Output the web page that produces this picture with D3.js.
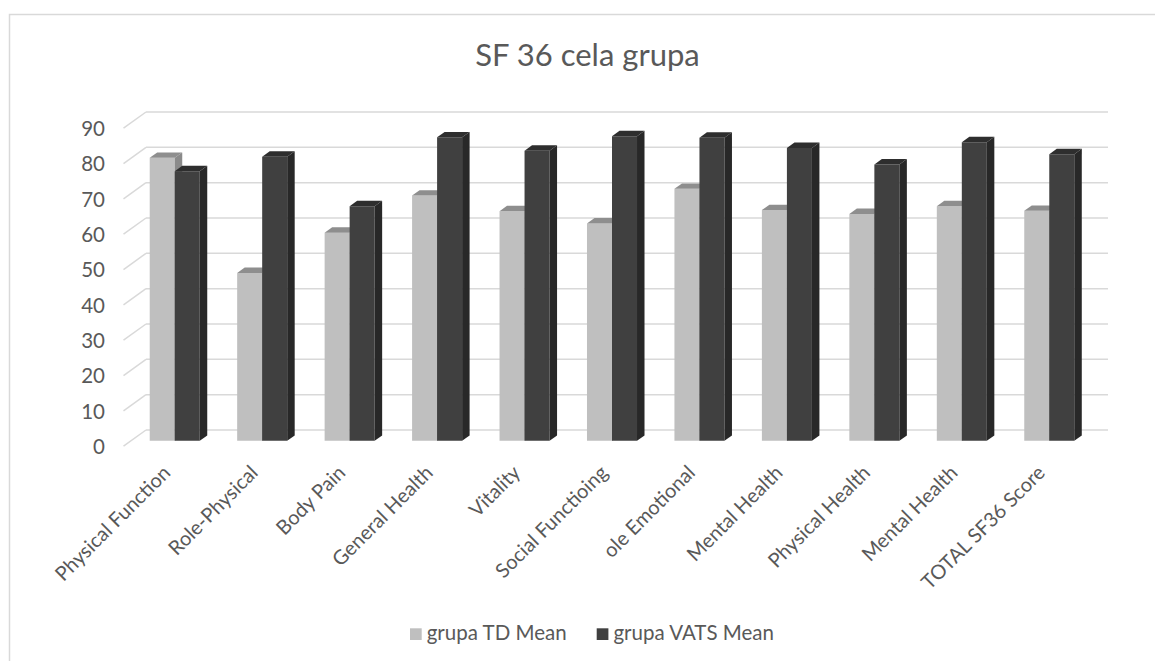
<!DOCTYPE html>
<html>
<head>
<meta charset="utf-8">
<script src="https://cdn.jsdelivr.net/npm/d3@7"></script>
<style>
  html, body { margin: 0; padding: 0; background: #ffffff; }
  svg { display: block; }
  text { font-family: Lato, "Open Sans", sans-serif; fill: #595959; }
</style>
</head>
<body>
<svg id="chart" width="1155" height="661"></svg>
<script>
// SF-36 domain means for the two surgical groups
const categories = [
  "Physical Function", "Role-Physical", "Body Pain", "General Health",
  "Vitality", "Social Functioing", "ole Emotional", "Mental Health",
  "Physical Health", "Mental Health", "TOTAL SF36 Score"
];
const seriesNames = ["grupa TD Mean", "grupa VATS Mean"];
const tdMean   = [80.1, 47.5, 58.9, 69.4, 65.0, 61.5, 71.3, 65.3, 64.2, 66.4, 65.1];
const vatsMean = [76.3, 80.4, 66.4, 85.9, 82.1, 86.2, 85.8, 82.9, 78.2, 84.5, 81.1];
const yTicks   = [0, 10, 20, 30, 40, 50, 60, 70, 80, 90];
const title    = "SF 36 cela grupa";

const seriesValues = [tdMean, vatsMean];

const svg = d3.select("#chart");

// chart frame (open to the right and bottom)
svg.append("path")
  .attr("d", "M1155,14.5 H9.5 V661")
  .attr("fill", "none")
  .attr("stroke", "#d9d9d9")
  .attr("stroke-width", 1.5);

// title
svg.append("text")
  .attr("x", 587.5)
  .attr("y", 66)
  .attr("text-anchor", "middle")
  .style("font-size", "31px")
  .text(title);

// back wall geometry; depth runs toward the viewer down-left
const wallLeft = 146, wallRight = 1108;
const slope = 0.72;              // screen dy per unit of depth
const floorDepth = 22.5;         // side wall / floor depth
const barFront = 15, barBack = 7.5;

const x = d3.scaleBand()
  .domain(d3.range(categories.length))
  .range([wallLeft, wallRight])
  .paddingInner(0.428)
  .paddingOuter(0.214);

const xs = d3.scaleBand()
  .domain(d3.range(seriesNames.length))
  .range([0, x.bandwidth()])
  .padding(0);

const y = d3.scaleLinear().domain([0, 90]).range([430, 112]);

// project a point on the wall plane toward the front by depth k
const px = (wx, k) => wx - k;
const py = (wy, k) => wy + slope * k;

// gridlines: back wall and left side wall
const grid = svg.append("g")
  .attr("stroke", "#d9d9d9")
  .attr("stroke-width", 1.5)
  .attr("fill", "none");

grid.selectAll("line.back")
  .data(yTicks)
  .join("line")
  .attr("class", "back")
  .attr("x1", wallLeft).attr("x2", wallRight)
  .attr("y1", d => y(d)).attr("y2", d => y(d));

grid.selectAll("line.side")
  .data(yTicks)
  .join("line")
  .attr("class", "side")
  .attr("x1", px(wallLeft, floorDepth)).attr("y1", d => py(y(d), floorDepth))
  .attr("x2", wallLeft).attr("y2", d => y(d));

// y tick labels
svg.append("g")
  .selectAll("text")
  .data(yTicks)
  .join("text")
  .attr("x", 105)
  .attr("y", d => y(d) + 24)
  .attr("text-anchor", "end")
  .style("font-size", "20.5px")
  .text(d => d);

// 3D columns
const faceColors = [
  { front: "#bfbfbf", top: "#8e8e8e", side: "#8a8a8a" },
  { front: "#404040", top: "#2e2e2e", side: "#282828" }
];

const bars = [];
categories.forEach((c, i) => {
  seriesValues.forEach((vals, s) => {
    bars.push({ i, s, v: vals[i] });
  });
});

const poly = pts => "M" + pts.map(p => p.join(",")).join("L") + "Z";

const barG = svg.append("g");
bars.forEach(b => {
  const x0 = x(b.i) + xs(b.s);
  const x1 = x0 + xs.bandwidth();
  const yt = y(b.v), yb = y(0);
  const c = faceColors[b.s];
  const g = barG.append("g");
  // front face
  g.append("path")
    .attr("d", poly([
      [px(x0, barFront), py(yt, barFront)],
      [px(x1, barFront), py(yt, barFront)],
      [px(x1, barFront), py(yb, barFront)],
      [px(x0, barFront), py(yb, barFront)]
    ]))
    .attr("fill", c.front);
  // top face
  g.append("path")
    .attr("d", poly([
      [px(x0, barFront), py(yt, barFront)],
      [px(x1, barFront), py(yt, barFront)],
      [px(x1, barBack), py(yt, barBack)],
      [px(x0, barBack), py(yt, barBack)]
    ]))
    .attr("fill", c.top);
  // right side face
  g.append("path")
    .attr("d", poly([
      [px(x1, barFront), py(yt, barFront)],
      [px(x1, barBack), py(yt, barBack)],
      [px(x1, barBack), py(yb, barBack)],
      [px(x1, barFront), py(yb, barFront)]
    ]))
    .attr("fill", c.side);
});

// category labels, rotated
svg.append("g")
  .selectAll("text")
  .data(categories)
  .join("text")
  .attr("transform", (d, i) => {
    const cx = px(x(i) + x.bandwidth() / 2, barFront) - 3;
    return `translate(${cx},474) rotate(-45)`;
  })
  .attr("text-anchor", "end")
  .style("font-size", "20px")
  .text(d => d);

// legend
const legendX = [410, 596.7];
const legend = svg.append("g");
seriesNames.forEach((name, s) => {
  legend.append("rect")
    .attr("x", legendX[s]).attr("y", 628.3)
    .attr("width", 11.7).attr("height", 11.7)
    .attr("fill", faceColors[s].front);
  legend.append("text")
    .attr("x", legendX[s] + 16.7)
    .attr("y", 640)
    .style("font-size", "20.5px")
    .text(name);
});
</script>
</body>
</html>
